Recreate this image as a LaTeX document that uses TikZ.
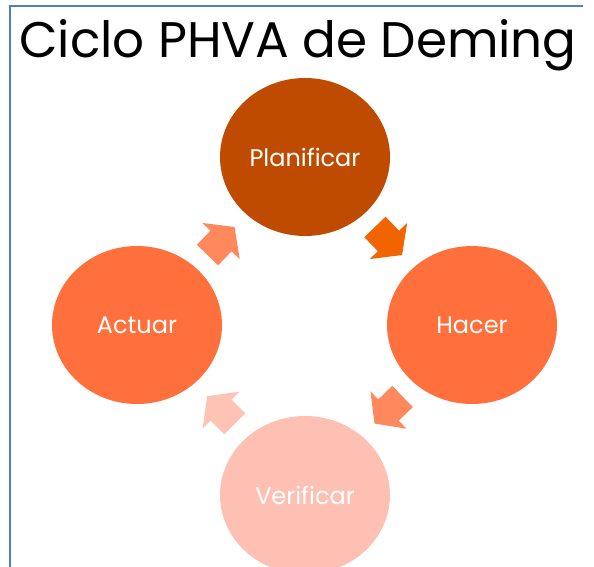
\documentclass[tikz,border=0pt]{standalone}
\usepackage{fontspec}
\setmainfont{Poppins}
\usetikzlibrary{shapes.geometric,calc}

\definecolor{frameblue}{RGB}{79,129,189}
\definecolor{planc}{RGB}{190,75,0}
\definecolor{hacerc}{RGB}{255,112,60}
\definecolor{verifc}{RGB}{255,192,180}
\definecolor{arrowa}{RGB}{242,100,0}
\definecolor{arrowb}{RGB}{255,137,92}
\definecolor{arrowc}{RGB}{255,195,182}

\tikzset{
  phase/.style={ellipse, minimum width=170pt, minimum height=158pt, inner sep=0pt,
    text=white, font=\fontsize{24}{28}\selectfont},
  cyclearrow/.pic={
    \fill[pic actions] (-19.5,-14.75) -- (0,-14.75) -- (0,-26) -- (19.5,0)
      -- (0,26) -- (0,14.75) -- (-19.5,14.75) -- cycle;
  }
}

\begin{document}
\begin{tikzpicture}[x=1pt,y=-1pt]
  \useasboundingbox (0,0) rectangle (594,567);
  \clip (0,0) rectangle (594,567);

  % frame edges
  \draw[frameblue, line width=2pt] (9.5,567) -- (9.5,6) -- (583,6);

  % heading
  \node[anchor=base west, inner sep=0pt, font=\fontsize{50}{60}\selectfont] (title)
    at (19,58) {Ciclo PHVA de Deming};

  % the four phases
  \node[phase, fill=planc]  (p) at (305,157) {Planificar};
  \node[phase, fill=hacerc] (h) at (472,325) {Hacer};
  \node[phase, fill=verifc] (v) at (305,495) {Verificar};
  \node[phase, fill=hacerc] (a) at (137,325) {Actuar};

  % block arrows between consecutive phases
  \pic[fill=arrowa, rotate=-46] at ($(p)!0.5!(h)$) {cyclearrow};
  \pic[fill=arrowb, rotate=-136] at ($(h)!0.5!(v)$) {cyclearrow};
  \pic[fill=arrowc, rotate=135] at ($(v)!0.5!(a)$) {cyclearrow};
  \pic[fill=arrowb, rotate=46] at ($(a)!0.5!(p)$) {cyclearrow};
\end{tikzpicture}
\end{document}
